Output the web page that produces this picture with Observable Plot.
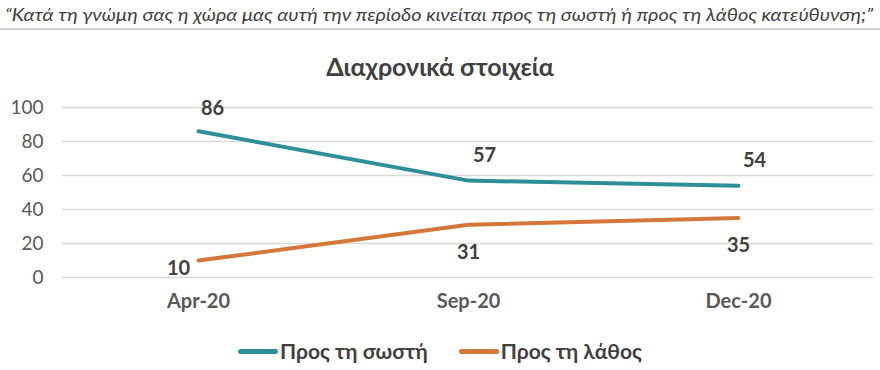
<!DOCTYPE html>
<html><head><meta charset="utf-8">
<script src="https://cdn.jsdelivr.net/npm/d3@7"></script>
<script src="https://cdn.jsdelivr.net/npm/@observablehq/plot@0.6"></script>
<style>
body{margin:0;background:#fff;font-family:Lato,"Open Sans",sans-serif;width:880px;height:370px;overflow:hidden}
#sub{height:28px;line-height:28px;padding-left:5px;font-style:italic;font-size:18px;color:#404040;white-space:nowrap}
#sub span{display:inline-block;transform-origin:0 50%}
#sep{height:2px;background:#d4d4d4}
#title{height:60px;line-height:60px;text-align:center;font-weight:bold;font-size:25px;color:#404040;position:relative;top:6px}
#legend{height:40px;display:flex;justify-content:center;align-items:center;gap:31px;font-size:21px;font-weight:bold;color:#404040}
#legend span.sw{display:inline-block;width:40px;height:5px;border-radius:3px;vertical-align:middle;margin-right:2px;position:relative;top:-2px}
</style></head><body>
<div id="sub"><span></span></div>
<div id="sep"></div>
<div id="title"></div>
<div id="chart"></div>
<div id="legend"></div>
<script>
const subtitle = "“Κατά τη γνώμη σας η χώρα μας αυτή την περίοδο κινείται προς τη σωστή ή προς τη λάθος κατεύθυνση;”";
const title = "Διαχρονικά στοιχεία";
const periods = ["Apr-20", "Sep-20", "Dec-20"];
const seriesNames = ["Προς τη σωστή", "Προς τη λάθος"];
const rightValues = [86, 57, 54];
const wrongValues = [10, 31, 35];
const yTicks = [0, 20, 40, 60, 80, 100];
const colors = ["#2f8f98", "#d5773b"];

const subSpan = document.querySelector("#sub span");
subSpan.textContent = subtitle;
const w = subSpan.getBoundingClientRect().width;
subSpan.style.transform = `scaleX(${868 / w})`;
document.getElementById("title").textContent = title;

const data = [
  ...periods.map((p, i) => ({period: p, value: rightValues[i], series: seriesNames[0], idx: i})),
  ...periods.map((p, i) => ({period: p, value: wrongValues[i], series: seriesNames[1], idx: i}))
];
const right = data.filter(d => d.series === seriesNames[0]);
const wrong = data.filter(d => d.series === seriesNames[1]);
const lbl = {fontSize: 20, fontWeight: "bold", fill: "#404040"};

const chart = Plot.plot({
  width: 880, height: 240,
  marginLeft: 62, marginRight: 7, marginTop: 17, marginBottom: 53,
  style: {fontFamily: "Lato, 'Open Sans', sans-serif", overflow: "visible"},
  x: {type: "point", domain: periods, padding: 0.5, label: null},
  y: {domain: [0, 100], label: null},
  color: {domain: seriesNames, range: colors},
  marks: [
    Plot.gridY(yTicks, {stroke: "#d9d9d9", strokeOpacity: 1, strokeWidth: 1.5}),
    Plot.axisY({ticks: yTicks, tickSize: 0, tickPadding: 19, fontSize: 19, fill: "#595959", label: null}),
    Plot.axisX({tickSize: 0, tickPadding: 16, fontSize: 20, fontWeight: "bold", fill: "#595959", label: null}),
    Plot.line(data, {x: "period", y: "value", z: "series", stroke: "series", strokeWidth: 4, strokeLinecap: "round"}),
    Plot.text(right.filter(d => d.idx === 0), {x: "period", y: "value", text: "value", dx: 14, dy: -23, ...lbl}),
    Plot.text(right.filter(d => d.idx > 0), {x: "period", y: "value", text: "value", dx: 16, dy: -25, ...lbl}),
    Plot.text(wrong.filter(d => d.idx === 0), {x: "period", y: "value", text: "value", dx: -20, dy: 8, ...lbl}),
    Plot.text(wrong.filter(d => d.idx > 0), {x: "period", y: "value", text: "value", dx: 0, dy: 28, ...lbl})
  ]
});
document.getElementById("chart").appendChild(chart);

const leg = document.getElementById("legend");
seriesNames.forEach((n, i) => {
  const item = document.createElement("div");
  item.innerHTML = `<span class="sw" style="background:${colors[i]}"></span>${n}`;
  leg.appendChild(item);
});
</script>
</body></html>
